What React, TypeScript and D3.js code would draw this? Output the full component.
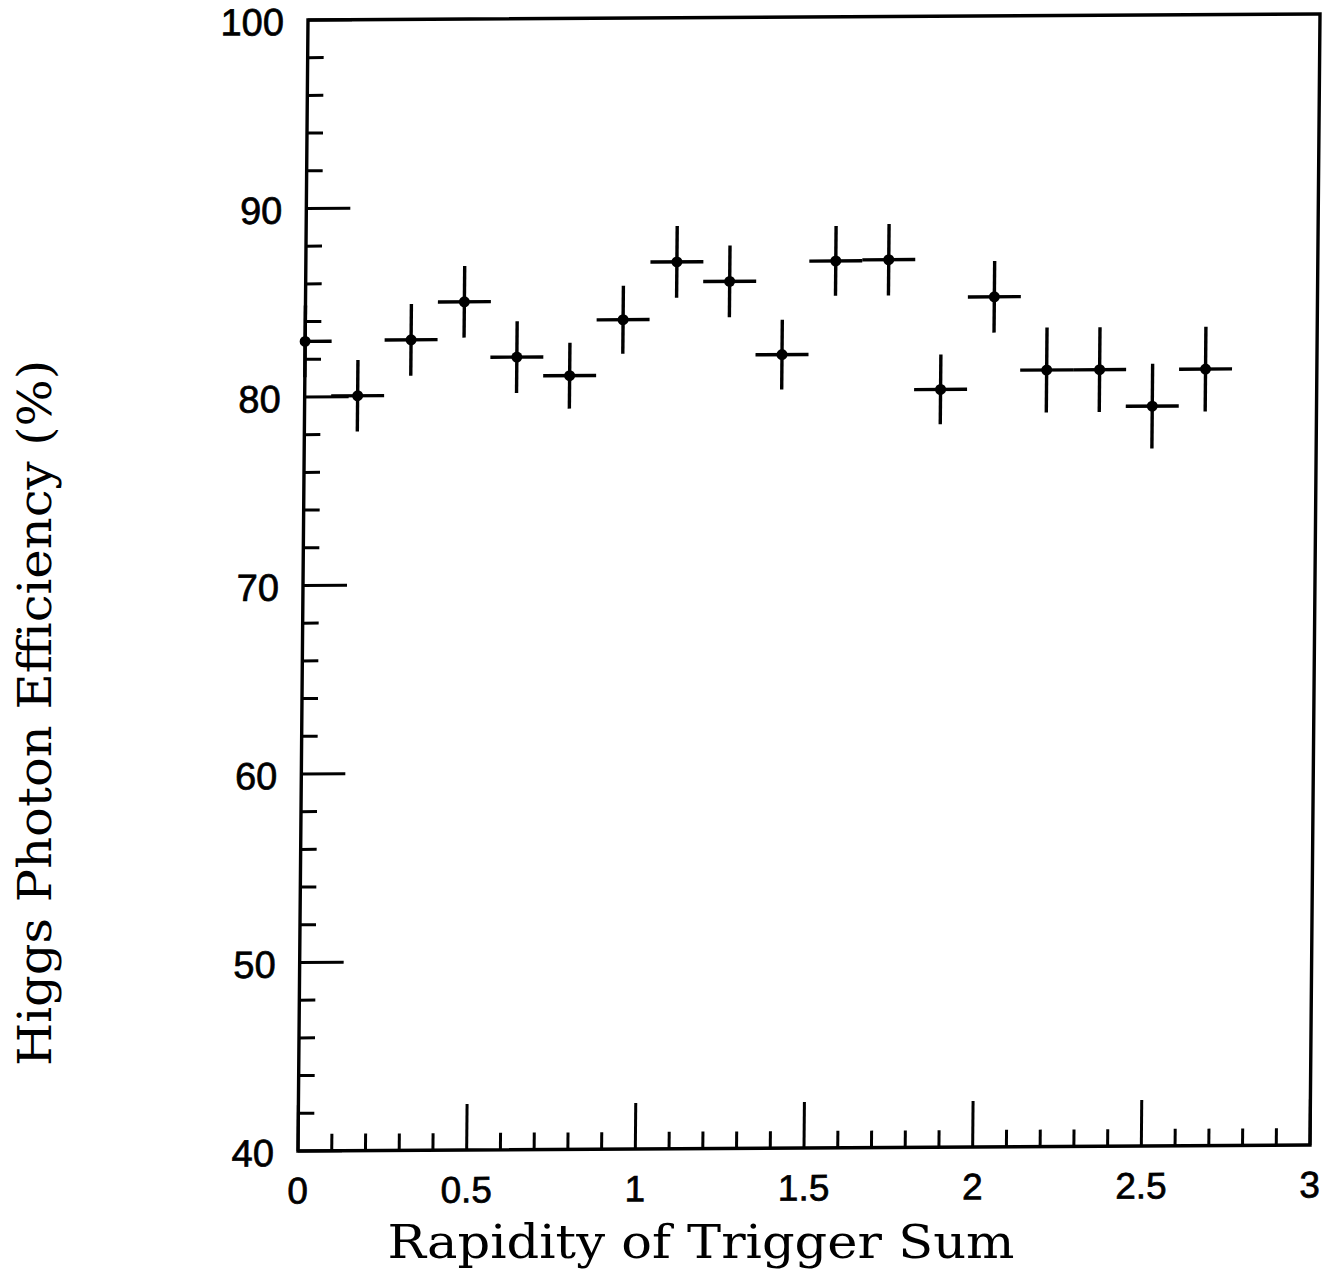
import React from "react";
import * as d3 from "d3";

// Data (rapidity bin centres, efficiency %, error)
const rapidity = [0, 0.157, 0.314, 0.471, 0.628, 0.785, 0.942, 1.1, 1.257, 1.414, 1.571, 1.728, 1.885, 2.042, 2.199, 2.356, 2.513, 2.67];
const efficiency = [82.95, 80.05, 83.0, 85.0, 82.05, 81.05, 84.0, 87.05, 86.0, 82.1, 87.05, 87.1, 80.2, 85.1, 81.2, 81.2, 79.25, 81.2];
const errors = [1.9, 1.9, 1.9, 1.9, 1.9, 1.75, 1.8, 1.9, 1.9, 1.85, 1.85, 1.9, 1.85, 1.9, 2.25, 2.25, 2.25, 2.25];
const binHalfWidth = 0.0785;

const xMajorTicks = [0, 0.5, 1, 1.5, 2, 2.5, 3];
const xTickLabels = ["0", "0.5", "1", "1.5", "2", "2.5", "3"];
const yMajorTicks = [40, 50, 60, 70, 80, 90, 100];
const yTickLabels = ["40", "50", "60", "70", "80", "90", "100"];

const xTitle = "Rapidity of Trigger Sum";
const yTitle = "Higgs Photon Efficiency (%)";

export default function App() {
  const W = 1012;
  const H = 1131;
  const x = d3.scaleLinear().domain([0, 3]).range([0, W]).clamp(true);
  const y = d3.scaleLinear().domain([40, 100]).range([0, -H]);

  const xMinor = x.ticks(30).filter((t) => !xMajorTicks.some((m) => Math.abs(m - t) < 1e-6));
  const yMinor = y.ticks(30).filter((t) => !yMajorTicks.some((m) => Math.abs(m - t) < 1e-6));

  const ink = "#000";
  const points = rapidity.map((r, i) => ({ r, e: efficiency[i], err: errors[i] }));
  const labelFont = "'Liberation Sans', Arial, sans-serif";

  return (
    <div style={{ position: "absolute", left: 0, top: 0 }}>
      <svg width={1336} height={1273} style={{ display: "block", background: "#fff" }}>
        <g transform="matrix(1,-0.0059,-0.00884,1,298,1151)">
          {/* frame */}
          <rect x={0} y={-H} width={W} height={H} fill="none" stroke={ink} strokeWidth={3.4} />
          {/* x ticks */}
          {xMajorTicks.map((t, i) => (
            <g key={"xm" + i}>
              <line x1={x(t)} x2={x(t)} y1={0} y2={-46} stroke={ink} strokeWidth={3} />
              <text
                x={x(t)}
                y={40}
                textAnchor="middle"
                dominantBaseline="central"
                fontFamily={labelFont}
                fontSize={37}
                fill={ink}
                stroke={ink}
                strokeWidth={0.7}
              >
                {xTickLabels[i]}
              </text>
            </g>
          ))}
          {xMinor.map((t, i) => (
            <line key={"xn" + i} x1={x(t)} x2={x(t)} y1={0} y2={-17} stroke={ink} strokeWidth={3} />
          ))}
          {/* y ticks */}
          {yMajorTicks.map((t, i) => (
            <g key={"ym" + i}>
              <line x1={0} x2={44} y1={y(t)} y2={y(t)} stroke={ink} strokeWidth={3} />
              <text
                x={-24}
                y={y(t) + 2}
                textAnchor="end"
                dominantBaseline="central"
                fontFamily={labelFont}
                fontSize={38}
                fill={ink}
                stroke={ink}
                strokeWidth={0.7}
              >
                {yTickLabels[i]}
              </text>
            </g>
          ))}
          {yMinor.map((t, i) => (
            <line key={"yn" + i} x1={0} x2={16} y1={y(t)} y2={y(t)} stroke={ink} strokeWidth={3} />
          ))}
          {/* data */}
          {points.map((p, i) => (
            <g key={"p" + i}>
              <line
                x1={x(p.r - binHalfWidth)}
                x2={x(p.r + binHalfWidth)}
                y1={y(p.e)}
                y2={y(p.e)}
                stroke={ink}
                strokeWidth={3.4}
              />
              <line
                x1={x(p.r)}
                x2={x(p.r)}
                y1={y(p.e - p.err)}
                y2={y(p.e + p.err)}
                stroke={ink}
                strokeWidth={3.4}
              />
              <circle cx={x(p.r)} cy={y(p.e)} r={5.5} fill={ink} />
            </g>
          ))}
        </g>
        {/* axis titles */}
        <text
          x={701}
          y={1258}
          textAnchor="middle"
          fontFamily="'DejaVu Serif', serif"
          fontSize={46}
          textLength={627}
          lengthAdjust="spacingAndGlyphs"
          fill={ink}
        >
          {xTitle}
        </text>
        <text
          transform="translate(51,713) rotate(-90)"
          textAnchor="middle"
          fontFamily="'DejaVu Serif', serif"
          fontSize={46}
          textLength={706}
          lengthAdjust="spacingAndGlyphs"
          fill={ink}
        >
          {yTitle}
        </text>
      </svg>
    </div>
  );
}
